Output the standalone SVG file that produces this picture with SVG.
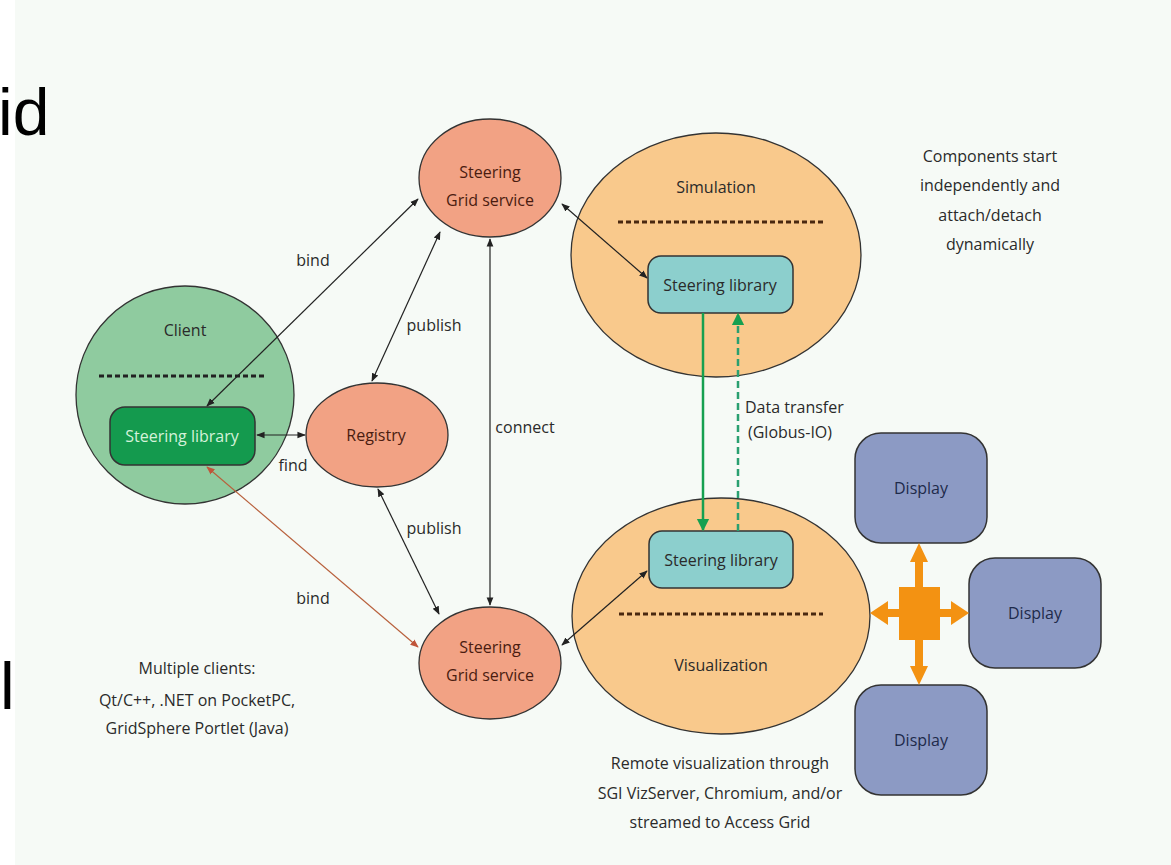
<svg xmlns="http://www.w3.org/2000/svg" width="1171" height="865" viewBox="0 0 1171 865">
<defs>
<style>
.t{font-family:"Open Sans","Noto Sans",sans-serif;font-size:16px;fill:#2a2a2a;text-anchor:middle}
.tb{fill:#4a1c10}
.tn{fill:#1e2a4a}
.big{font-family:"Liberation Sans",Arial,sans-serif;font-size:66px;fill:#000}
.ln{fill:none;stroke:#222;stroke-width:1.2}
.dash{stroke:#222;stroke-width:3;stroke-dasharray:5,3}
.dashb{stroke:#4a2810;stroke-width:3;stroke-dasharray:5,3}
.sal{fill:#f2a284;stroke:#333;stroke-width:1.3}
.peach{fill:#f9c98c;stroke:#333;stroke-width:1.3}
.teal{fill:#8ccfcd;stroke:#333;stroke-width:1.5}
.disp{fill:#8c9ac4;stroke:#333;stroke-width:1.5}
</style>
<marker id="ah" viewBox="0 0 10 10" refX="9" refY="5" markerWidth="7" markerHeight="7" orient="auto-start-reverse"><path d="M0,1 L10,5 L0,9 z" fill="#222"/></marker>
<marker id="ahr" viewBox="0 0 10 10" refX="9" refY="5" markerWidth="7" markerHeight="7" orient="auto-start-reverse"><path d="M0,1 L10,5 L0,9 z" fill="#c0553a"/></marker>
<marker id="ahg" viewBox="0 0 10 10" refX="9" refY="5" markerWidth="5" markerHeight="6" orient="auto-start-reverse"><path d="M0,0 L10,5 L0,10 z" fill="#16a050"/></marker>
</defs>
<rect x="0" y="0" width="1171" height="865" fill="#ffffff"/>
<rect x="15" y="0" width="1156" height="865" fill="#f6faf6"/>
<text class="big" x="-2" y="135">id</text>
<text class="big" x="0" y="709">l</text>

<g id="client">
<circle cx="185" cy="395" r="109" fill="#8fcb9f" stroke="#333" stroke-width="1.3"/>
<text class="t" x="185" y="336">Client</text>
<line class="dash" x1="99" y1="376" x2="267" y2="376"/>
</g>
<g id="client-lib">
<rect x="110" y="407" width="145" height="58" rx="15" fill="#149a4e" stroke="#333" stroke-width="1.5"/>
<text class="t" x="182" y="442" style="fill:#d4f2da">Steering library</text>
</g>
<g id="registry">
<ellipse class="sal" cx="377" cy="435" rx="71" ry="52"/>
<text class="t tb" x="376" y="441">Registry</text>
</g>
<g id="sgs-top">
<ellipse class="sal" cx="490" cy="178" rx="71" ry="59"/>
<text class="t tb" x="490" y="178">Steering</text>
<text class="t tb" x="490" y="206">Grid service</text>
</g>
<g id="sgs-bottom">
<ellipse class="sal" cx="490" cy="663" rx="71" ry="56"/>
<text class="t tb" x="490" y="653">Steering</text>
<text class="t tb" x="490" y="681">Grid service</text>
</g>
<g id="simulation">
<ellipse class="peach" cx="716" cy="255" rx="145" ry="122"/>
<text class="t" x="716" y="193">Simulation</text>
<line class="dashb" x1="618" y1="222" x2="823" y2="222"/>
</g>
<g id="sim-lib">
<rect class="teal" x="648" y="256" width="145" height="57" rx="13"/>
<text class="t" x="720" y="291">Steering library</text>
</g>
<g id="visualization">
<ellipse class="peach" cx="721" cy="616" rx="149" ry="118"/>
<line class="dashb" x1="619" y1="614" x2="823" y2="614"/>
<text class="t" x="721" y="671">Visualization</text>
</g>
<g id="vis-lib">
<rect class="teal" x="649" y="531" width="144" height="57" rx="13"/>
<text class="t" x="721" y="566">Steering library</text>
</g>
<g id="display-top">
<rect class="disp" x="855" y="433" width="132" height="110" rx="26"/>
<text class="t tn" x="921" y="494">Display</text>
</g>
<g id="display-mid">
<rect class="disp" x="969" y="558" width="132" height="110" rx="26"/>
<text class="t tn" x="1035" y="619">Display</text>
</g>
<g id="display-bottom">
<rect class="disp" x="855" y="685" width="132" height="110" rx="26"/>
<text class="t tn" x="921" y="746">Display</text>
</g>
<g id="hub">
<rect x="899" y="587" width="41" height="53" fill="#f39212"/>
<path d="M915,587 L915,562 L910,562 L919,543 L928,562 L923,562 L923,587 z" fill="#f39212"/>
<path d="M915,640 L915,666 L910,666 L919,685 L928,666 L923,666 L923,640 z" fill="#f39212"/>
<path d="M899,609 L888,609 L888,601 L870,613 L888,625 L888,617 L899,617 z" fill="#f39212"/>
<path d="M940,609 L951,609 L951,601 L969,613 L951,625 L951,617 L940,617 z" fill="#f39212"/>
</g>

<g id="connectors">
<line class="ln" x1="207" y1="406" x2="418" y2="199" marker-start="url(#ah)" marker-end="url(#ah)"/>
<line class="ln" x1="440" y1="232" x2="372" y2="381" marker-start="url(#ah)" marker-end="url(#ah)"/>
<line class="ln" x1="490" y1="239" x2="490" y2="605" marker-start="url(#ah)" marker-end="url(#ah)"/>
<line class="ln" x1="378" y1="489" x2="439" y2="614" marker-start="url(#ah)" marker-end="url(#ah)"/>
<line class="ln" x1="257" y1="435" x2="305" y2="435" marker-start="url(#ah)" marker-end="url(#ah)"/>
<line x1="207" y1="467" x2="418" y2="647" stroke="#b8603c" stroke-width="1.2" marker-start="url(#ahr)" marker-end="url(#ahr)"/>
<line class="ln" x1="562" y1="204" x2="647" y2="278" marker-start="url(#ah)" marker-end="url(#ah)"/>
<line class="ln" x1="562" y1="645" x2="647" y2="571" marker-start="url(#ah)" marker-end="url(#ah)"/>
<line x1="703" y1="313" x2="703" y2="530" stroke="#16a050" stroke-width="2.5" marker-end="url(#ahg)"/>
<line x1="738" y1="531" x2="738" y2="314" stroke="#2aa070" stroke-width="2.5" stroke-dasharray="7,4" marker-end="url(#ahg)"/>
</g>

<g id="labels">
<text class="t" x="313" y="266">bind</text>
<text class="t" x="434" y="331">publish</text>
<text class="t" x="525" y="433">connect</text>
<text class="t" x="434" y="534">publish</text>
<text class="t" x="313" y="604">bind</text>
<text class="t" x="293" y="471">find</text>
<text class="t" x="745" y="413" style="text-anchor:start">Data transfer</text>
<text class="t" x="748" y="438" style="text-anchor:start">(Globus-IO)</text>
<text class="t" x="990" y="162">Components start</text>
<text class="t" x="990" y="191">independently and</text>
<text class="t" x="990" y="221">attach/detach</text>
<text class="t" x="990" y="250">dynamically</text>
<text class="t" x="197" y="674">Multiple clients:</text>
<text class="t" x="197" y="706">Qt/C++, .NET on PocketPC,</text>
<text class="t" x="197" y="734">GridSphere Portlet (Java)</text>
<text class="t" x="720" y="769">Remote visualization through</text>
<text class="t" x="720" y="799">SGI VizServer, Chromium, and/or</text>
<text class="t" x="720" y="828">streamed to Access Grid</text>
</g>
</svg>
